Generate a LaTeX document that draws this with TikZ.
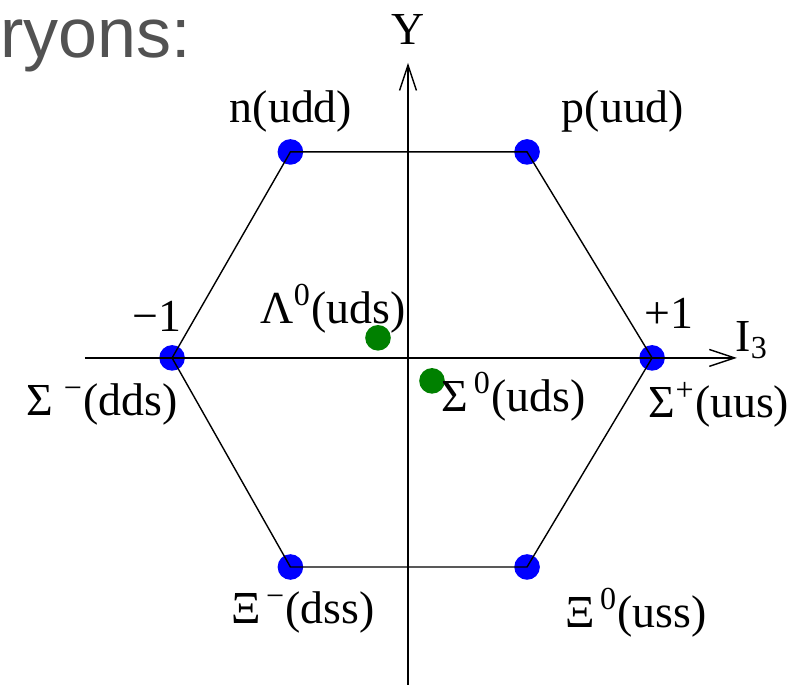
\documentclass[tikz,border=0pt]{standalone}
\usepackage{fontspec}
\setmainfont{Liberation Serif}
\newfontfamily\slidefont{Liberation Sans}
\usetikzlibrary{arrows.meta}

\begin{document}
\begin{tikzpicture}[
  x=3cm, y=2.5875cm,
  font=\fontsize{16.3}{19}\selectfont,
  axis/.style={line width=0.5pt, -{Straight Barb[length=9pt,width=6pt]}},
  edge/.style={line width=0.5pt},
  baryon/.style={circle, fill=blue, inner sep=0pt, minimum size=0.32cm},
  neutral/.style={circle, fill=green!50!black, inner sep=0pt, minimum size=0.32cm},
]
\useasboundingbox (-1.7,-1.58) rectangle (1.629,1.729);

% slide title, cut off at the left
\node[anchor=base west, inner sep=0pt, text=black!68,
  font=\slidefont\fontsize{24.9}{28}\selectfont] (title) at (-1.7,1.449) {ryons:};

% octet points
\node[baryon] (n) at (-0.49,0.995) {};
\node[baryon] (p) at (0.496,0.995) {};
\node[baryon] (sp) at (1.017,0) {};
\node[baryon] (xi0) at (0.496,-1.01) {};
\node[baryon] (xim) at (-0.49,-1.01) {};
\node[baryon] (sm) at (-0.983,0) {};
\node[neutral] (lam) at (-0.125,0.097) {};
\node[neutral] (s0) at (0.1,-0.111) {};

% axes
\coordinate (ybot) at (0,-1.58);
\coordinate (ytop) at (0,1.425);
\coordinate (xleft) at (-1.346,0);
\coordinate (xright) at (1.37,0);
\draw[axis] (ybot) -- (ytop);
\draw[axis] (xleft) -- (xright);
\draw[edge] (n.center) -- (p.center) -- (sp.center) -- (xi0.center)
  -- (xim.center) -- (sm.center) -- cycle;

% labels
\node (ylab) at (0,1.585) {Y};
\node (ilab) at (1.433,0.087) {I\textsubscript{3}};
\node (mone) at (-1.046,0.203) {−1};
\node (pone) at (1.0875,0.217) {+1};
\node (nlab) at (-0.4875,1.188) {n(udd)};
\node (plab) at (0.896,1.188) {p(uud)};
\node (splab) at (1.296,-0.227) {Σ\textsuperscript{+}(uus)};
\node (smlab) at (-1.275,-0.227) {Σ\textsuperscript{\,\,−}(dds)};
\node (lamlab) at (-0.3125,0.237) {Λ\textsuperscript{0}(uds)};
\node (s0lab) at (0.44,-0.188) {Σ\textsuperscript{\,0}(uds)};
\node (ximlab) at (-0.4375,-1.232) {Ξ\textsuperscript{\,−}(dss)};
\node (xi0lab) at (0.95,-1.232) {Ξ\textsuperscript{\,0}(uss)};
\end{tikzpicture}
\end{document}
